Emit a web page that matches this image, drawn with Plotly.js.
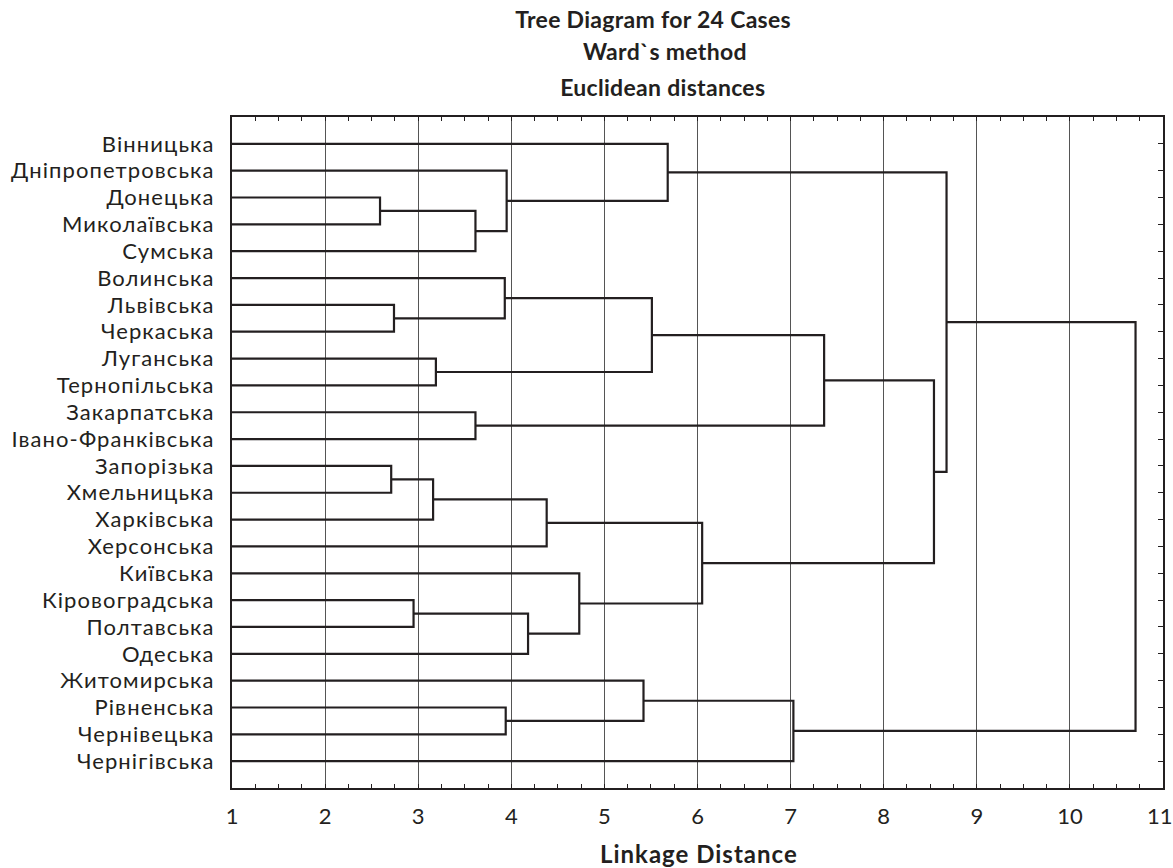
<!DOCTYPE html>
<html>
<head>
<meta charset="utf-8">
<script src="https://cdn.plot.ly/plotly-3.0.1.min.js"></script>
<style>
html,body{margin:0;padding:0;background:#fff;}
#chart{width:1173px;height:868px;}
#chart .ytick text{letter-spacing:1.1px;}
#chart g.annotation[data-index="0"] text,
#chart g.annotation[data-index="1"] text,
#chart g.annotation[data-index="2"] text{letter-spacing:0.3px;}
#chart g.annotation[data-index="3"] text{letter-spacing:1px;}
</style>
</head>
<body>
<div id="chart"></div>
<script>
// Leaf labels, top to bottom
const leafNames = [
  'Вінницька','Дніпропетровська','Донецька','Миколаївська','Сумська',
  'Волинська','Львівська','Черкаська','Луганська','Тернопільська',
  'Закарпатська','Івано-Франківська','Запорізька','Хмельницька','Харківська',
  'Херсонська','Київська','Кіровоградська','Полтавська','Одеська',
  'Житомирська','Рівненська','Чернівецька','Чернігівська'
];
// Linkage: children (leaf index 0..23, cluster index 24+) and linkage distance
const mergeLeft   = [2, 6, 12, 17, 8, 26, 24, 10, 5, 21, 1, 27, 29, 16, 20, 32, 0, 36, 38, 39, 43, 40, 45];
const mergeRight  = [3, 7, 13, 18, 9, 14, 4, 11, 25, 22, 30, 19, 15, 35, 33, 28, 34, 37, 23, 31, 41, 44, 42];
const mergeHeight = [2.59, 2.74, 2.71, 2.95, 3.19, 3.16, 3.615, 3.615, 3.93, 3.94, 3.95, 4.18, 4.38, 4.73, 5.42, 5.51, 5.68, 6.05, 7.03, 7.36, 8.54, 8.675, 10.705];
const xTickVals = [1,2,3,4,5,6,7,8,9,10,11];

const leafBase = 1; // leaves start at the axis origin
const nLeaf = leafNames.length;
const pos = [], hgt = [];
for (let i = 0; i < nLeaf; i++) { pos[i] = i; hgt[i] = leafBase; }
const xs = [], ys = [];
for (let k = 0; k < mergeLeft.length; k++) {
  const a = mergeLeft[k], b = mergeRight[k], h = mergeHeight[k];
  xs.push(hgt[a], h, h, hgt[b], null);
  ys.push(pos[a], pos[a], pos[b], pos[b], null);
  const id = nLeaf + k;
  pos[id] = (pos[a] + pos[b]) / 2;
  hgt[id] = h;
}

const ink = '#231f20';
const font = 'Lato, Roboto, sans-serif';
const data = [{
  type: 'scatter', mode: 'lines', x: xs, y: ys,
  line: {color: ink, width: 2.2}, hoverinfo: 'skip', showlegend: false
}];

const lastTick = xTickVals[xTickVals.length - 1];
const layout = {
  width: 1173, height: 868,
  margin: {l: 232, r: 10, t: 117, b: 80},
  paper_bgcolor: '#fff', plot_bgcolor: '#fff',
  font: {family: font, color: ink},
  showlegend: false,
  xaxis: {
    range: [1, 11], tickvals: xTickVals,
    ticktext: xTickVals.map(v => v === lastTick ? '' : String(v)),
    showgrid: true, gridcolor: '#555', gridwidth: 1,
    zeroline: false, showline: true, linecolor: ink, linewidth: 2, mirror: 'ticks',
    ticks: 'inside', ticklen: 4, tickcolor: ink, tickwidth: 1,
    ticklabelstandoff: 8,
    tickfont: {family: font, size: 22, color: ink},
    minor: {dtick: 0.25, ticks: 'inside', ticklen: 4, tickcolor: ink, tickwidth: 1, showgrid: false}
  },
  yaxis: {
    range: [24, -1], tickvals: leafNames.map((_, i) => i), ticktext: leafNames,
    showgrid: false, zeroline: false, showline: true, linecolor: ink, linewidth: 2, mirror: 'ticks',
    ticks: 'inside', ticklen: 5, tickcolor: ink, tickwidth: 1,
    ticklabelstandoff: 11, ticklabeloverflow: 'allow',
    tickfont: {family: font, size: 22, color: ink}
  },
  annotations: [
    {text: '<b>Tree Diagram for 24 Cases</b>', xref: 'paper', yref: 'paper', x: 0.4517, y: 1, yshift: 98, xanchor: 'center', yanchor: 'middle', showarrow: false, font: {family: font, size: 23, color: ink}},
    {text: '<b>Ward`s method</b>', xref: 'paper', yref: 'paper', x: 0.4651, y: 1, yshift: 66, xanchor: 'center', yanchor: 'middle', showarrow: false, font: {family: font, size: 23, color: ink}},
    {text: '<b>Euclidean distances</b>', xref: 'paper', yref: 'paper', x: 0.4633, y: 1, yshift: 30.5, xanchor: 'center', yanchor: 'middle', showarrow: false, font: {family: font, size: 23, color: ink}},
    {text: '<b>Linkage Distance</b>', xref: 'paper', yref: 'paper', x: 0.5016, y: 0, yshift: -65, xanchor: 'center', yanchor: 'middle', showarrow: false, font: {family: font, size: 24, color: ink}},
    {text: String(lastTick), xref: 'x', yref: 'paper', x: lastTick, y: 0, xshift: -3, yshift: -27, xanchor: 'center', yanchor: 'middle', showarrow: false, font: {family: font, size: 22, color: ink}}
  ]
};

Plotly.newPlot('chart', data, layout, {displayModeBar: false, staticPlot: true});
</script>
</body>
</html>
